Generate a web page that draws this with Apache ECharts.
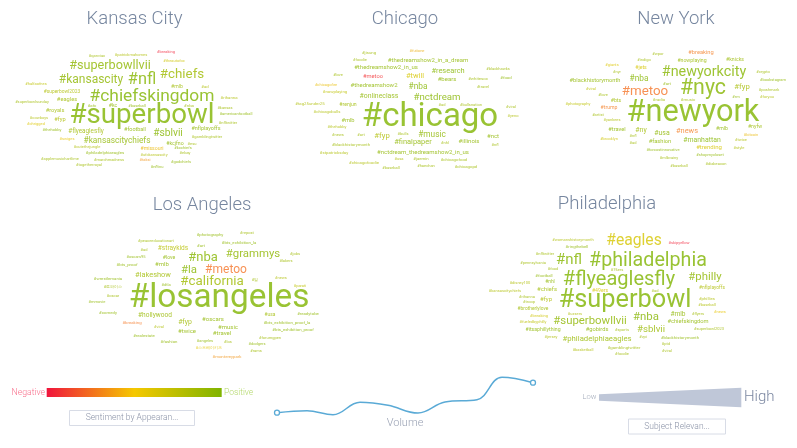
<!DOCTYPE html>
<html>
<head>
<meta charset="utf-8">
<style>html,body{margin:0;padding:0;background:#fff}#main{width:797px;height:448px}</style>
<script src="https://cdn.jsdelivr.net/npm/echarts@6/dist/echarts.min.js"></script>
</head>
<body>
<div id="main"></div>
<script>
var kansasCityTags = ['#superbowl','#chiefskingdom','#superbowllvii','#kansascity','#nfl','#chiefs','#sblvii','#kansascitychiefs','#flyeaglesfly','#eagles',
    '#royals','#fyp','#football','#nflplayoffs','#superbowl2023','#kc','#mlb','#ad','#afc','#nba',
    '#baseball','#superbowlsunday','#rihanna','#kansas','#americanfootball','#cowboys','#chrigged','#thehobby','#nfltwitter','#gamblingtwitter',
    '#swiges','#kcjfno','#esu','#cutethejungle','#missouri','#kcchiefs','#philadelphiaeagles','#ufckansascity','#ebay','#applemusichartlime',
    '#marchmadness','#taksi','#godchiefs','#togetherroyal','#nfltnu','#qanviac','#patrickmahomes','#breaking','#theautofox','#halfaofnes'];
var kansasCityRelevance = [83,52,38,36,49,40,33,29,22,20, 20,20,19,19,17,18,18,15,15,15, 14,14,15,14,14,14,14,14,14,14, 14,18,14,14,18,14,15,14,14,14, 14,14,14,14,14,14,14,14,14,14];
var kansasCitySentiment = [1,1,.95,.95,.98,.9,.98,.95,.9,.9, .9,.85,.95,.95,.85,.95,.9,.85,.95,.9, .95,.9,.85,.9,.95,.85,.7,.95,.9,.9, .65,.95,.9,.85,.6,.95,.95,.85,.9,.9, .9,.45,.95,.9,.95,.9,.85,.05,.75,.8];

var chicagoTags = ['#chicago','#nctdream','#jisung','#futione','#foodie','#thedreamshow2_in_a_dream','#thedreamshow2_in_us','#research','#blackhawks','#love',
    '#metoo','#twill','#bears','#whitesox','#food','#chicagofire','#thedreamshow2','#nba','#travel','#nowplaying',
    '#onlineclass','#tag25under25','#renjun','#ad','#bullsnation','#viral','#yeno','#chicagobulls','#mlb','#thehobby',
    '#news','#art','#fyp','#bulls','#music','#finalpaper','#nhl','#illinois','#nct','#nfl',
    '#blackhistorymonth','#nctdream_thedreamshow2_in_us','#stpatricksday','#chicagofoodie','#usa','#jaemin','#chicagofood','#baseball','#haechan','#chicagopd'];
var chicagoRelevance = [99,32,15,14,14,21,21,26,14,14, 20,26,21,15,15,14,21,29,14,15, 24,15,18,14,14,14,14,15,20,14, 14,14,27,14,29,26,14,21,21,14, 15,21,15,15,14,15,15,14,14,15];
var chicagoSentiment = [1,.98,.9,.55,.9,.95,.95,.98,.9,.9, .1,.72,.95,.9,.95,.62,.95,.98,.9,.8, .95,.85,.9,.9,.9,.9,.85,.85,.95,.85, .9,.9,.85,.9,.95,.95,.9,.95,.95,.9, .9,.95,.85,.85,.85,.9,.9,.9,.9,.9];

var newYorkTags = ['#newyork','#nyc','#newyorkcity','#metoo','#breaking','#nowplaying','#knicks','#jets','#indigo','#wpor',
    '#giants','#nyr','#crypto','#bookstagram','#poshmark','#foryou','#blackhistorymonth','#nba','#art','#fyp',
    '#viral','#love','#rm','#photography','#bts','#radio','#music','#trump','#artist','#yankees',
    '#travel','#ny','#usa','#news','#mlb','#nyfw','#bitcoin','#brooklyn','#nfl','#ad',
    '#fashion','#manhattan','#trending','#twice','#style','#forcostinnovative','#shopmycloset','#mlbvainy','#baseball','#diabeacon'];
var newYorkRelevance = [92,64,43,40,20,18,18,18,14,14, 14,14,14,14,14,14,20,29,15,27, 14,14,14,14,18,15,15,18,14,14, 20,24,24,26,18,18,14,14,14,14, 20,24,21,14,14,14,14,14,14,14];
var newYorkSentiment = [1,.98,.98,.32,.35,.92,.92,.72,.9,.9, .7,.9,.9,.95,.9,.85,.95,.98,.95,.88, .8,.9,.95,.8,.9,.9,.9,.35,.9,.85, .95,.9,.95,.35,.95,.92,.6,.75,.9,.9, .95,.98,.72,.85,.85,.95,.95,.9,.9,.9];

var losAngelesTags = ['#losangeles','#california','#metoo','#grammys','#nba','#la','#peaceeducationart','#ad','#straykids','#oscars95',
    '#love','#bts_proof','#mlb','#lakeshow','#wrestlemania','#트와이스','#dtla','#oscar','#mmovie','#comedy',
    '#hollywood','#breaking','#viral','#fyp','#twice','#realestate','#fashion','#photography','#repost','#bts_exhibition_la',
    '#art','#jobs','#lakers','#일','#news','#parati','#usa','#readytobe','#oscars','#music',
    '#bts_exhibition_proof_la','#bts_exhibition_proof','#travel','#forumgpen','#angeles','#los','#dodgers','#스프레이키즈','#rams','#montereypark'];
var losAngelesRelevance = [100,40,36,35,39,35,14,14,23,14, 18,15,21,26,15,15,14,14,14,15, 23,15,14,24,21,15,15,15,14,15, 15,14,14,15,14,14,17,15,21,21, 15,15,21,14,14,14,14,14,14,15];
var losAngelesSentiment = [1,.9,.32,.95,.98,.98,.9,.9,.82,.95, .95,.95,.95,.9,.95,.9,.95,.9,.95,.95, .92,.33,.85,.9,.95,.95,.95,.95,.9,.95, .95,.9,.9,.9,.85,.8,.9,.95,.95,.95, .95,.95,.95,.9,.95,.9,.95,.68,.9,.45];

var philadelphiaTags = ['#superbowl','#flyeaglesfly','#philadelphia','#nfl','#eagles','#skipyellow','#womanshistorymonth','#ringthebell','#nfltwitter','#pennsylvania',
    '#food','#football','#nhl','#disney100','#chiefs','#kansascitychiefs','#49ers','#ad','#76ers','#philly',
    '#nflplayoffs','#phillies','#baseball','#news','#rihanna','#troop','#fyp','#brotherlylove','#breaking','#fueledbyphilly',
    '#superbowllvii','#uzsers','#nba','#mlb','#flyers','#chiefskingdom','#itsaphillything','#gobirds','#sports','#sblvii',
    '#superbowl2023','#jersey','#philadelphiaeagles','#vpi','#blackhistorymonth','#gamblingtwitter','#ptd','#viral','#foodie','#basketball'];
var philadelphiaRelevance = [76,60,59,45,47,14,14,15,14,14, 14,15,17,14,21,14,18,14,14,35, 17,15,14,14,14,14,21,17,14,14, 35,14,35,23,14,20,18,20,14,32, 14,14,27,14,15,15,14,14,14,14];
var philadelphiaSentiment = [1,1,1,.98,.72,.05,.85,.95,.9,.9, .9,.95,.95,.85,.9,.85,.72,.9,.9,.95, .85,.85,.85,.65,.9,.9,.85,.9,.75,.8, .95,.85,.98,.95,.9,.95,.95,.95,.9,.92, .9,.85,.92,.9,.95,.9,.9,.9,.9,.85];

var volumeDays = [0,30,56,83,111,141,168,200,225,256];
var volumeValues = [14.6,18.6,10.6,35.4,29.4,14,36,40.6,85.4,74.6];

var cityNames = ['Kansas City','Chicago','New York','Los Angeles','Philadelphia'];

// word cloud placement, pixel pairs on the 797x448 page
var kansasCityPlaces = [[142,116],[152,97],[110,66],[91,80],[142,80],[182,75],[168,133],[117,141],[86,131],[67,100],
    [55,111],[60,120],[135,130],[206,129],[62,92],[113,106],[177,87],[205,87],[92,106],[189,106],
    [137,106],[32,102],[229,98],[225,108],[236,114],[39,118],[36,124],[52,130],[228,123],[207,137],
    [67,139],[175,144],[192,144],[87,147],[152,149],[183,148],[105,153],[154,155],[185,153],[60,159],
    [109,160],[145,160],[181,162],[89,165],[157,167],[97,56],[131,55],[166,52],[174,61],[36,84]];
var chicagoPlaces = [[430,118],[437,98],[369,53],[417,51],[360,60],[428,60],[386,67],[448,71],[498,69],[338,75],
    [373,77],[415,76],[447,79],[478,79],[506,78],[326,85],[374,85],[418,87],[483,87],[335,92],
    [379,96],[310,104],[348,105],[442,105],[471,105],[511,107],[513,116],[327,112],[348,121],[337,127],
    [338,135],[361,135],[382,136],[403,134],[432,135],[413,142],[445,143],[469,141],[493,136],[495,145],
    [351,145],[423,152],[334,153],[364,163],[399,159],[421,159],[454,160],[391,168],[426,166],[466,167]];
var newYorkPlaces = [[693,113],[703,89],[704,72],[645,92],[701,53],[692,61],[735,60],[641,68],[644,60],[658,54],
    [612,65],[617,72],[763,72],[773,80],[769,90],[767,97],[595,81],[639,79],[667,84],[742,87],
    [591,89],[603,95],[736,97],[578,104],[616,101],[659,100],[688,100],[609,108],[598,115],[612,120],
    [617,130],[641,130],[662,133],[687,131],[722,129],[755,127],[751,135],[609,139],[633,136],[633,143],
    [660,142],[702,140],[709,147],[741,140],[739,148],[663,150],[710,155],[669,158],[679,166],[716,164]];
var losAngelesPlaces = [[219,299],[212,282],[226,270],[253,254],[203,258],[189,270],[156,241],[144,250],[173,248],[136,257],
    [169,258],[127,265],[162,264],[153,275],[108,279],[113,287],[166,285],[113,296],[97,302],[108,313],
    [155,315],[132,323],[159,327],[185,322],[187,331],[144,336],[169,342],[210,235],[247,233],[239,243],
    [201,246],[295,254],[286,261],[255,280],[281,278],[300,286],[270,315],[308,314],[213,319],[228,327],
    [287,323],[293,330],[222,333],[270,338],[205,341],[228,342],[257,344],[209,348],[256,351],[227,357]];
var philadelphiaPlaces = [[625,301],[619,280],[648,261],[569,260],[634,241],[679,243],[573,240],[577,247],[545,254],[533,263],
    [553,269],[544,276],[550,282],[520,283],[547,289],[505,291],[600,291],[655,291],[617,270],[705,277],
    [712,288],[707,299],[707,305],[720,312],[527,297],[529,302],[546,299],[533,309],[539,316],[533,322],
    [590,321],[575,314],[646,317],[678,314],[698,314],[688,322],[543,330],[597,330],[622,330],[651,330],
    [709,329],[551,337],[597,339],[643,337],[680,338],[624,348],[666,344],[667,351],[622,354],[583,350]];

var sentimentColors = ['#f0143c','#f57a28','#e6c800','#80b400'];
var fontName = 'Roboto';

// small words are drawn tighter than the big ones
function wordSize(relevance) {
    var factor = echarts.number.linearMap(relevance, [30, 36], [0.86, 1], true);
    return relevance / 3 * factor;
}

function wordSeries(tags, relevance, sentiment, places) {
    var data = [];
    for (var i = 0; i < tags.length; i++) {
        data.push({
            name: tags[i],
            value: places[i],
            label: {
                fontSize: wordSize(relevance[i]),
                color: echarts.color.lerp(sentiment[i], sentimentColors)
            }
        });
    }
    return {
        type: 'scatter',
        xAxisIndex: 0,
        yAxisIndex: 0,
        symbolSize: 1,
        silent: true,
        itemStyle: {color: 'transparent'},
        label: {show: true, position: 'inside', formatter: '{b}', fontFamily: fontName, fontWeight: 400},
        data: data
    };
}

function staticText(text, x, y, size, color, align, weight) {
    return {
        type: 'text',
        x: x,
        y: y,
        silent: true,
        style: {
            text: text,
            fill: color,
            fontFamily: fontName,
            fontSize: size,
            fontWeight: weight || 400,
            align: align || 'center',
            verticalAlign: 'middle'
        }
    };
}

function filterBox(x, y, w, h) {
    return {
        type: 'rect',
        silent: true,
        shape: {x: x, y: y, width: w, height: h},
        style: {fill: '#fff', stroke: '#d8dce6', lineWidth: 1}
    };
}

var volumeData = [];
for (var i = 0; i < volumeDays.length; i++) {
    volumeData.push([volumeDays[i], volumeValues[i]]);
}

var chart = echarts.init(document.getElementById('main'), null, {renderer: 'canvas'});
chart.setOption({
    animation: false,
    backgroundColor: '#fff',
    grid: [
        {left: 0, top: 0, width: 797, height: 448},
        {left: 277, top: 370, width: 256, height: 50}
    ],
    xAxis: [
        {type: 'value', gridIndex: 0, min: 0, max: 797, show: false},
        {type: 'value', gridIndex: 1, min: 0, max: 256, show: false}
    ],
    yAxis: [
        {type: 'value', gridIndex: 0, min: 0, max: 448, inverse: true, show: false},
        {type: 'value', gridIndex: 1, min: 0, max: 100, show: false}
    ],
    graphic: [
        staticText(cityNames[0], 134.5, 19.5, 18.5, '#76869f', 'center', 300),
        staticText(cityNames[1], 405, 19.5, 18.5, '#76869f', 'center', 300),
        staticText(cityNames[2], 676, 19.5, 18.5, '#76869f', 'center', 300),
        staticText(cityNames[3], 202, 205.5, 18.5, '#76869f', 'center', 300),
        staticText(cityNames[4], 607, 204.5, 18.5, '#76869f', 'center', 300),
        {
            type: 'rect',
            silent: true,
            shape: {x: 46.7, y: 388, width: 175, height: 9},
            style: {
                fill: new echarts.graphic.LinearGradient(0, 0, 1, 0, [
                    {offset: 0, color: '#f0143c'},
                    {offset: 0.5, color: '#f5c800'},
                    {offset: 1, color: '#80b400'}
                ])
            }
        },
        staticText('Negative', 45, 393, 8.7, '#f8708c', 'right', 300),
        staticText('Positive', 224, 393, 8.5, '#b4d86c', 'left', 300),
        filterBox(69.5, 410.5, 125, 15),
        staticText('Sentiment by Appearan...', 132, 418, 8.5, '#8b93a7', 'center', 300),
        staticText('Volume', 405, 423, 11, '#9aa2b4', 'center', 300),
        {
            type: 'polygon',
            silent: true,
            shape: {points: [[599, 394.3], [741.3, 387.7], [741.3, 407.3], [599, 400.7]]},
            style: {fill: '#bfc7d8'}
        },
        staticText('Low', 589.5, 397, 7.5, '#a2aaba', 'center', 300),
        staticText('High', 744, 397, 15, '#7a86a0', 'left', 300),
        filterBox(628.5, 419, 97, 15),
        staticText('Subject Relevan...', 677, 426.5, 8.5, '#8b93a7', 'center', 300)
    ],
    series: [
        wordSeries(kansasCityTags, kansasCityRelevance, kansasCitySentiment, kansasCityPlaces),
        wordSeries(chicagoTags, chicagoRelevance, chicagoSentiment, chicagoPlaces),
        wordSeries(newYorkTags, newYorkRelevance, newYorkSentiment, newYorkPlaces),
        wordSeries(losAngelesTags, losAngelesRelevance, losAngelesSentiment, losAngelesPlaces),
        wordSeries(philadelphiaTags, philadelphiaRelevance, philadelphiaSentiment, philadelphiaPlaces),
        {
            type: 'line',
            xAxisIndex: 1,
            yAxisIndex: 1,
            smooth: 0.4,
            silent: true,
            showAllSymbol: true,
            symbol: function(value, params) {
                return (params.dataIndex === 0 || params.dataIndex === volumeData.length - 1) ? 'circle' : 'none';
            },
            symbolSize: 5,
            lineStyle: {color: '#5aaad6', width: 1.5},
            itemStyle: {color: '#fff', borderColor: '#5aaad6', borderWidth: 1.3},
            data: volumeData
        }
    ]
});
</script>
</body>
</html>
